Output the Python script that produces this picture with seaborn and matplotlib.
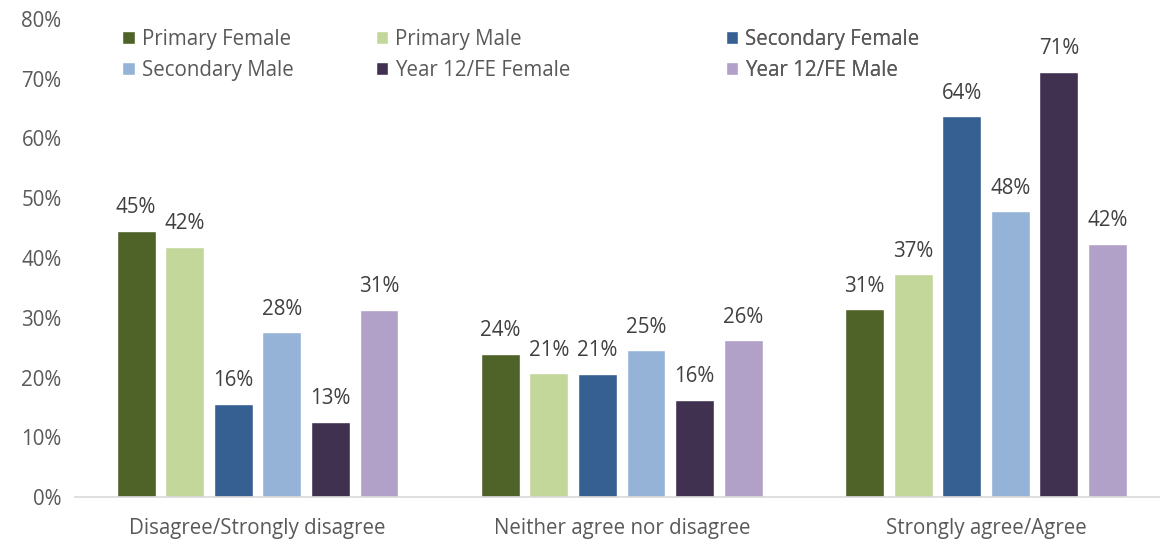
import pandas as pd
import seaborn as sns
import matplotlib.pyplot as plt
from matplotlib.patches import Patch
from matplotlib.ticker import PercentFormatter

# Data
categories = ['Disagree/Strongly disagree', 'Neither agree nor disagree', 'Strongly agree/Agree']
groups = ['Primary Female', 'Primary Male', 'Secondary Female',
          'Secondary Male', 'Year 12/FE Female', 'Year 12/FE Male']
primary_female = [44.6, 24.0, 31.4]
primary_male = [41.9, 20.7, 37.3]
secondary_female = [15.6, 20.6, 63.7]
secondary_male = [27.6, 24.6, 47.8]
year12_female = [12.6, 16.3, 71.2]
year12_male = [31.3, 26.2, 42.4]
colors = ['#4f6228', '#c4d79b', '#366092', '#95b3d7', '#403151', '#b1a0c7']

series = [primary_female, primary_male, secondary_female,
          secondary_male, year12_female, year12_male]
rows = []
for g, vals in zip(groups, series):
    for c, v in zip(categories, vals):
        rows.append({'category': c, 'group': g, 'value': v})
df = pd.DataFrame(rows)

sns.set_style('white')
plt.rcParams['font.family'] = ['Open Sans', 'DejaVu Sans']
text_color = '#595959'
fs = 14.8

fig = plt.figure(figsize=(11.6, 5.42), dpi=100)
ax = fig.add_axes([0.065, 0.083, 0.942, 0.882])

sns.barplot(data=df, x='category', y='value', hue='group', hue_order=groups,
            palette=colors, width=0.8, gap=0.2, ax=ax, legend=False,
            saturation=1)

for cont in ax.containers:
    ax.bar_label(cont, labels=[f'{v:.0f}%' for v in cont.datavalues],
                 padding=9, fontsize=fs, color='#404040')

ax.set_ylim(0, 80)
ax.set_xlim(-0.5, 2.5)
ax.set_yticks(range(0, 81, 10))
ax.yaxis.set_major_formatter(PercentFormatter(decimals=0))
ax.set_xlabel('')
ax.set_ylabel('')
ax.tick_params(axis='both', labelsize=fs, colors=text_color, length=0)
ax.tick_params(axis='x', pad=15)
ax.tick_params(axis='y', pad=10)
for side in ['top', 'right', 'left']:
    ax.spines[side].set_visible(False)
ax.spines['bottom'].set_color('#d9d9d9')
ax.spines['bottom'].set_linewidth(1.2)

# legend in three columns, filled row by row
cols = [[0, 3], [1, 4], [2, 5]]
xs = [0.043, 0.275, 0.595]
for idx, x0 in zip(cols, xs):
    handles = [Patch(facecolor=colors[i], label=groups[i]) for i in idx]
    leg = ax.legend(handles=handles, loc='upper left', bbox_to_anchor=(x0, 0.98),
                    frameon=False, fontsize=fs, handlelength=0.6, handleheight=0.6,
                    handletextpad=0.35, labelspacing=0.5, borderpad=0, borderaxespad=0,
                    labelcolor=text_color)
    ax.add_artist(leg)

fig.savefig('out.png', dpi=100)
